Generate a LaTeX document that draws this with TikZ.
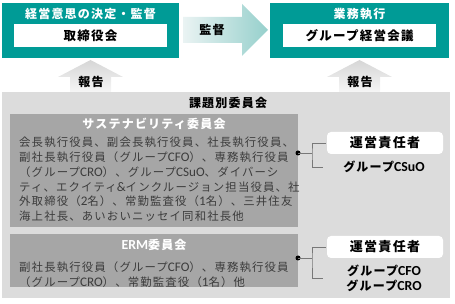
\documentclass[tikz,border=0pt]{standalone}
\usepackage{fontspec}
\setmainfont{Noto Sans CJK JP}[LetterSpace=10]
\newfontfamily\enfont{Carlito}[Scale=1.15]
\newcommand{\en}[1]{{\enfont #1}}
\usetikzlibrary{positioning,calc}
\definecolor{bandteal}{RGB}{0,155,150}
\definecolor{panelgray}{RGB}{220,220,220}
\definecolor{boxgray}{RGB}{166,166,166}
\definecolor{bodygray}{RGB}{60,60,60}
\definecolor{linegray}{RGB}{120,120,120}
\definecolor{arrowpale}{RGB}{234,243,243}
\definecolor{arrowteal}{RGB}{150,208,204}
\definecolor{reportdark}{RGB}{214,214,214}
\definecolor{reportpale}{RGB}{246,246,246}

\tikzset{
  tealbox/.style={fill=bandteal, inner sep=0pt},
  namebox/.style={fill=white, inner sep=0pt, font=\bfseries\fontsize{12.5}{14}\selectfont},
  headtext/.style={text=white, font=\bfseries\fontsize{12}{14}\selectfont},
  labeltext/.style={font=\bfseries\fontsize{12}{14}\selectfont},
  groupbox/.style={fill=boxgray, inner sep=0pt, anchor=north west},
  bodytext/.style={text=bodygray, align=left, inner sep=0pt, anchor=north west,
    font=\fontsize{11.4}{14.8}\selectfont},
  mgrbox/.style={fill=white, rounded corners=4pt, inner sep=0pt,
    minimum width=116pt, minimum height=22pt, font=\bfseries\fontsize{13}{15}\selectfont},
  officer/.style={align=center, font=\bfseries\fontsize{12}{15.5}\selectfont},
  dot/.style={circle, fill=black, inner sep=0pt, minimum size=5pt},
  bracket/.style={draw=linegray, line width=0.6pt}
}

\begin{document}
\begin{tikzpicture}[x=1pt,y=-1pt]
\useasboundingbox (0,0) rectangle (455,304);

% top row
\node[tealbox, minimum width=177pt, minimum height=55pt] (board) at (90.5,30.5) {};
\node[headtext] (boardtitle) at (90.5,14) {経営意思の決定・監督};
\node[namebox, minimum width=153pt, minimum height=23pt] (boardname) at (90.5,35.5) {取締役会};

\node[tealbox, minimum width=179pt, minimum height=55pt] (exec) at (359.5,30.5) {};
\node[headtext] (exectitle) at (359.5,14) {業務執行};
\node[namebox, minimum width=153pt, minimum height=23pt] (execname) at (359.5,35.5) {グループ経営会議};

% supervise arrow
\shade[left color=arrowpale, right color=arrowteal]
  (183,17) -- (242,17) -- (242,4) -- (268,30) -- (242,56) -- (242,43) -- (183,43) -- cycle;
\node[labeltext] (supervise) at (212,30) {監督};

% panel
\fill[panelgray] (2,92) rectangle (450,298);
\node[labeltext] (paneltitle) at (228,103) {課題別委員会};

% report arrows
\shade[top color=reportdark, bottom color=reportpale]
  (90.5,60) -- (123,77) -- (111,77) -- (111,92) -- (70,92) -- (70,77) -- (58,77) -- cycle;
\node[labeltext] (reportl) at (91,82) {報告};
\shade[top color=reportdark, bottom color=reportpale]
  (359.5,60) -- (392,77) -- (380,77) -- (380,92) -- (339,92) -- (339,77) -- (327,77) -- cycle;
\node[labeltext] (reportr) at (360,82) {報告};

% sustainability committee
\node[groupbox, minimum width=288pt, minimum height=113pt] (sust) at (10,114) {};
\node[headtext] (susttitle) at (154,124) {サステナビリティ委員会};
\node[bodytext] (sustbody) at (19,137) {%
会長執行役員、副会長執行役員、社長執行役員、\\
副社長執行役員（グループ\en{CFO}）、専務執行役員\\
（グループ\en{CRO}）、グループ\en{CSuO}、ダイバーシ\\
ティ、エクイティ\en{\&}インクルージョン担当役員、社\\
外取締役（\en{2}名）、常勤監査役（\en{1}名）、三井住友\\
海上社長、あいおいニッセイ同和社長他};

\node[dot] (sdot) at (298,153) {};
\node[mgrbox] (smgr) at (385,143) {運営責任者};
\node[officer] (sofficer) at (384,167) {グループ\en{CSuO}};
\draw[bracket] (sdot.center) -- ++(14,0) coordinate (sjoint);
\draw[bracket] ([xshift=-1pt]smgr.west) -| (sjoint) -- (sjoint |- sofficer) -- ++(11,0);

% ERM committee
\node[groupbox, minimum width=288pt, minimum height=53pt] (erm) at (10,234) {};
\node[headtext] (ermtitle) at (154,245) {\en{ERM}委員会};
\node[bodytext] (ermbody) at (19,262) {%
副社長執行役員（グループ\en{CFO}）、専務執行役員\\
（グループ\en{CRO}）、常勤監査役（\en{1}名）他};

\node[dot] (edot) at (298,258) {};
\node[mgrbox] (emgr) at (385,247) {運営責任者};
\node[officer] (eofficer) at (384,278.5) {グループ\en{CFO}\\グループ\en{CRO}};
\draw[bracket] (edot.center) -- ++(14,0) coordinate (ejoint);
\draw[bracket] ([xshift=-1pt]emgr.west) -| (ejoint) -- (ejoint |- eofficer) -- ++(11,0);
\end{tikzpicture}
\end{document}
